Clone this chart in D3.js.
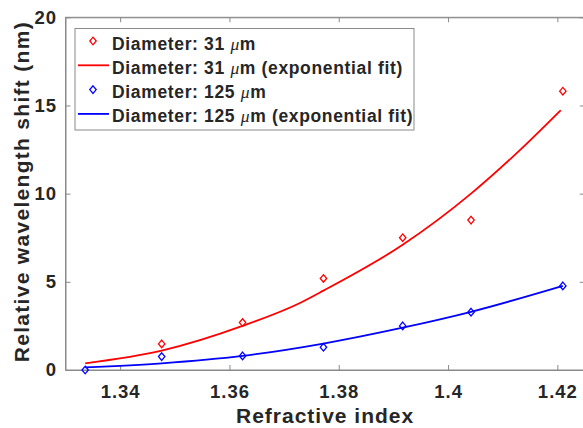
<!DOCTYPE html>
<html>
<head>
<meta charset="utf-8">
<script src="https://cdn.jsdelivr.net/npm/d3@7"></script>
<style>
  body { margin: 0; background: #fff; }
  text { font-family: "Liberation Sans", Arial, sans-serif; font-weight: bold; fill: #262626; }
</style>
</head>
<body>
<svg id="chart"></svg>
<script>
// measured points
var x31 = [1.3476, 1.3624, 1.3772, 1.3917, 1.4042, 1.421];
var y31 = [1.48, 2.69, 5.19, 7.5, 8.5, 15.81];
var x125 = [1.3336, 1.3476, 1.3624, 1.3772, 1.3917, 1.4042, 1.421];
var y125 = [0, 0.76, 0.8, 1.29, 2.5, 3.28, 4.77];

// exponential fit curves
var fitX31 = [1.3336, 1.3476, 1.3624, 1.3729, 1.3772, 1.3917, 1.4042, 1.4129, 1.4206];
var fitY31 = [0.38, 1.1, 2.5, 3.8, 4.5, 7.1, 10.0, 12.4, 14.73];
var fitX125 = [1.3336, 1.3476, 1.3624, 1.3772, 1.3917, 1.4042, 1.421];
var fitY125 = [0.15, 0.38, 0.8, 1.5, 2.4, 3.3, 4.77];

var xTicks = [1.34, 1.36, 1.38, 1.4, 1.42];
var xTickLabels = ["1.34", "1.36", "1.38", "1.4", "1.42"];
var yTicks = [0, 5, 10, 15, 20];

var legendLabels = ["Diameter: 31 ", "Diameter: 31 ", "Diameter: 125 ", "Diameter: 125 "];
var legendTails = ["m", "m (exponential fit)", "m", "m (exponential fit)"];

var width = 583, height = 428;
var plotL = 65.5, plotR = 584.7, plotT = 17.3, plotB = 370;

var svg = d3.select("#chart").attr("width", width).attr("height", height);

var xScale = d3.scaleLinear().domain([1.33, 1.425]).range([plotL, plotR]);
var yScale = d3.scaleLinear().domain([0, 20]).range([plotB, plotT]);

var axisColor = "#8a8a8a";

// box
svg.append("rect").attr("x", plotL).attr("y", plotT)
  .attr("width", plotR - plotL).attr("height", plotB - plotT)
  .attr("fill", "none").attr("stroke", axisColor).attr("stroke-width", 1);

var xAxis = d3.axisBottom(xScale).tickValues(xTicks)
  .tickFormat(function (d, i) { return xTickLabels[i]; })
  .tickSizeInner(-5).tickSizeOuter(0).tickPadding(15);
var yAxis = d3.axisLeft(yScale).tickValues(yTicks)
  .tickSizeInner(-5).tickSizeOuter(0).tickPadding(8.5);
var xTop = d3.axisTop(xScale).tickValues(xTicks).tickFormat("")
  .tickSizeInner(-5).tickSizeOuter(0);
var yRight = d3.axisRight(yScale).tickValues(yTicks).tickFormat("")
  .tickSizeInner(-5).tickSizeOuter(0);

function styleAxis(g) {
  g.select(".domain").attr("stroke", axisColor);
  g.selectAll(".tick line").attr("stroke", axisColor);
  g.selectAll(".tick text").attr("fill", "#262626")
    .style("font-family", "'Liberation Sans', Arial, sans-serif")
    .style("font-weight", "bold").style("font-size", "18.5px")
    .style("letter-spacing", "1px");
}

svg.append("g").attr("transform", "translate(0," + plotB + ")").call(xAxis).call(styleAxis);
svg.append("g").attr("transform", "translate(" + plotL + ",0)").call(yAxis).call(styleAxis);
svg.append("g").attr("transform", "translate(0," + plotT + ")").call(xTop).call(styleAxis);
svg.append("g").attr("transform", "translate(" + plotR + ",0)").call(yRight).call(styleAxis);

// axis titles
svg.append("text").attr("x", (plotL + plotR) / 2).attr("y", 423)
  .attr("text-anchor", "middle").style("font-size", "21px").style("letter-spacing", "1px")
  .text("Refractive index");
svg.append("text").attr("transform", "translate(29," + ((plotT + plotB) / 2 - 2) + ") rotate(-90)")
  .attr("text-anchor", "middle").style("font-size", "21px").style("letter-spacing", "1.3px")
  .text("Relative wavelength shift (nm)");

// fit lines
var line = d3.line().x(function (d) { return xScale(d[0]); })
  .y(function (d) { return yScale(d[1]); }).curve(d3.curveMonotoneX);

var fit31 = d3.zip(fitX31, fitY31);
var fit125 = d3.zip(fitX125, fitY125);

svg.append("path").datum(fit31).attr("d", line)
  .attr("fill", "none").attr("stroke", "#ff0000").attr("stroke-width", 1.8);
svg.append("path").datum(fit125).attr("d", line)
  .attr("fill", "none").attr("stroke", "#0000ff").attr("stroke-width", 1.8);

// diamond markers
function diamond(cx, cy) {
  return "M" + cx + "," + (cy - 3.8) + "L" + (cx + 3.2) + "," + cy +
    "L" + cx + "," + (cy + 3.8) + "L" + (cx - 3.2) + "," + cy + "Z";
}

svg.selectAll("path.p31").data(d3.zip(x31, y31)).enter().append("path")
  .attr("class", "p31")
  .attr("d", function (d) { return diamond(xScale(d[0]), yScale(d[1])); })
  .attr("fill", "none").attr("stroke", "#ff0000").attr("stroke-width", 1.3);
svg.selectAll("path.p125").data(d3.zip(x125, y125)).enter().append("path")
  .attr("class", "p125")
  .attr("d", function (d) { return diamond(xScale(d[0]), yScale(d[1])); })
  .attr("fill", "none").attr("stroke", "#0000ff").attr("stroke-width", 1.3);

// legend
var legend = svg.append("g");
legend.append("rect").attr("x", 75).attr("y", 28.5).attr("width", 339).attr("height", 101.5)
  .attr("fill", "#fff").attr("stroke", axisColor).attr("stroke-width", 1);

var legendColors = ["#ff0000", "#ff0000", "#0000ff", "#0000ff"];
var legendIsLine = [false, true, false, true];

legendLabels.forEach(function (lab, i) {
  var cy = 41 + i * 24.3;
  if (legendIsLine[i]) {
    legend.append("line").attr("x1", 78).attr("x2", 109).attr("y1", cy).attr("y2", cy)
      .attr("stroke", legendColors[i]).attr("stroke-width", 1.8);
  } else {
    legend.append("path").attr("d", diamond(93, cy))
      .attr("fill", "none").attr("stroke", legendColors[i]).attr("stroke-width", 1.3);
  }
  var t = legend.append("text").attr("x", 112).attr("y", cy + 8.5)
    .style("font-size", "17.5px").style("letter-spacing", "0.65px").attr("fill", "#000");
  t.append("tspan").text(lab);
  t.append("tspan").text("\u03bc").style("font-family", "'Liberation Serif', serif")
    .style("font-style", "italic").style("font-weight", "normal");
  t.append("tspan").text(legendTails[i]);
});
</script>
</body>
</html>
